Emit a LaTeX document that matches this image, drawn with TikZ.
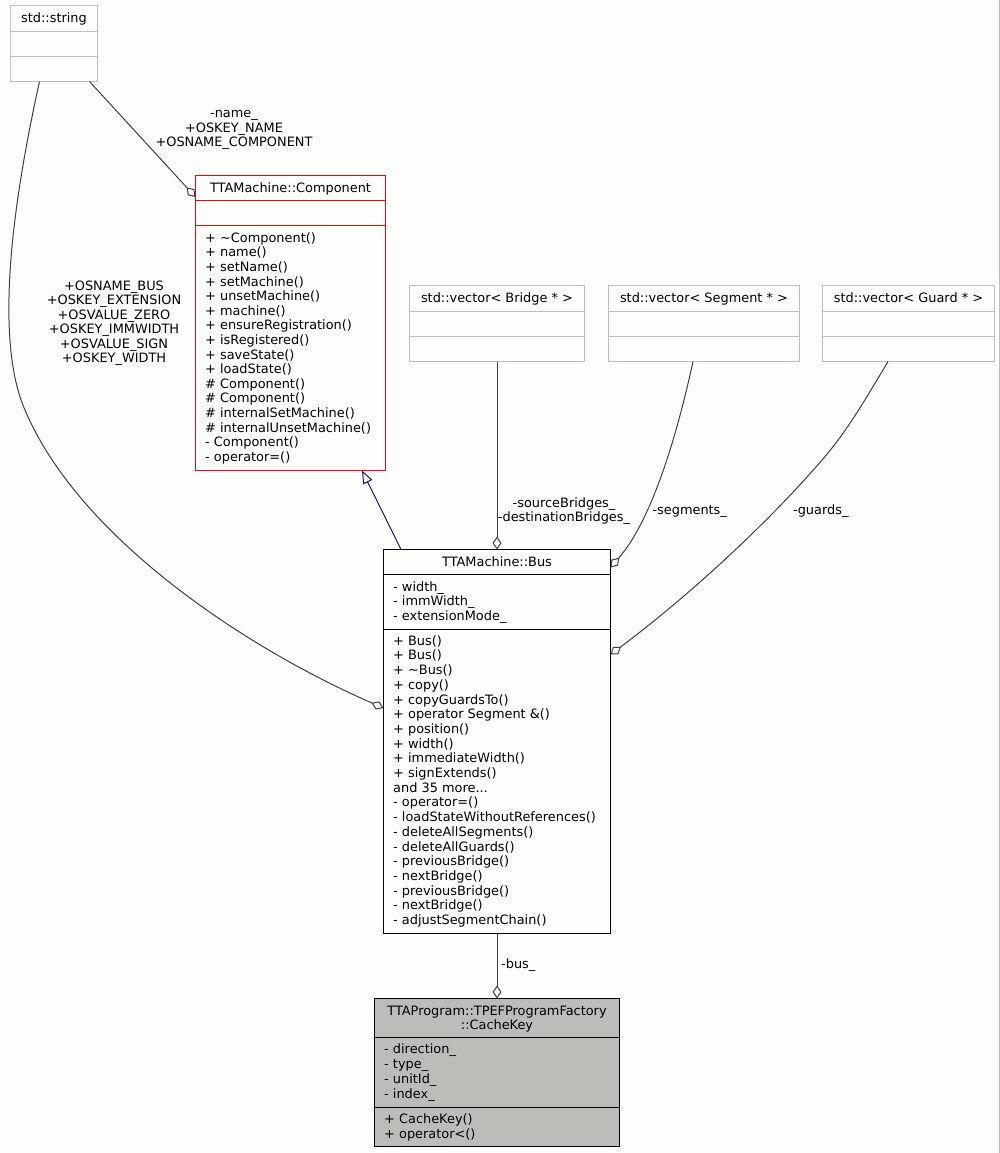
\documentclass[tikz,border=0pt]{standalone}
\usepackage{fontspec}
\setmainfont{DejaVu Sans}
\usetikzlibrary{arrows.meta}

\definecolor{edgegray}{RGB}{64,64,64}
\definecolor{boxgray}{RGB}{191,191,191}
\definecolor{compred}{RGB}{255,0,0}
\definecolor{keyfill}{RGB}{187,189,185}
\definecolor{inhblue}{RGB}{25,25,112}
\definecolor{pagebg}{RGB}{253,255,253}

\tikzset{
  cls/.style={draw, color=#1, rectangle, inner sep=0pt, outer sep=0pt, anchor=north west, line width=1pt},
  cls/.default=black,
  txt/.style={inner sep=0pt, color=black, font=\fontsize{12.9}{14.6}\selectfont},
  member/.style={txt, anchor=base west},
  title/.style={txt, anchor=base},
  sep/.style={draw, color=#1, line width=1pt},
  sep/.default=black,
  agg/.style={draw, color=edgegray, line width=1pt, -{Diamond[open, length=13pt, width=9pt]}},
  inh/.style={draw, color=inhblue, line width=1pt, -{Triangle[open, length=13pt, width=10pt]}},
}

\begin{document}
\begin{tikzpicture}[x=1pt, y=-1pt]
  \path[fill=pagebg] (0,0) rectangle (1000,1153);
  \useasboundingbox (0,0) rectangle (1000,1153);
  \path[sep=boxgray] (999.5,0) -- (999.5,1153);

  \node[cls=boxgray, minimum width=87pt, minimum height=76pt] (str) at (10.5,5.5) {};
  \node[cls=boxgray, minimum width=175pt, minimum height=76pt] (brg) at (409.5,285.5) {};
  \node[cls=boxgray, minimum width=191pt, minimum height=76pt] (seg) at (608.5,285.5) {};
  \node[cls=boxgray, minimum width=172pt, minimum height=76pt] (grd) at (822.5,285.5) {};
  \node[cls=compred, minimum width=190pt, minimum height=295pt] (comp) at (195.5,175.5) {};
  \node[cls, minimum width=227pt, minimum height=384pt] (bus) at (383.5,549.5) {};
  \node[cls, fill=keyfill, minimum width=245pt, minimum height=148pt] (key) at (374.5,998.5) {};

  \foreach \b in {str,brg,seg,grd}{
    \path[sep=boxgray] ([yshift=-26pt]\b.north west) -- ([yshift=-26pt]\b.north east);
    \path[sep=boxgray] ([yshift=-51pt]\b.north west) -- ([yshift=-51pt]\b.north east);
  }
  \path[sep=compred] ([yshift=-25pt]comp.north west) -- ([yshift=-25pt]comp.north east);
  \path[sep=compred] ([yshift=-50pt]comp.north west) -- ([yshift=-50pt]comp.north east);
  \path[sep] ([yshift=-25pt]bus.north west) -- ([yshift=-25pt]bus.north east);
  \path[sep] ([yshift=-80pt]bus.north west) -- ([yshift=-80pt]bus.north east);
  \path[sep] ([yshift=-39pt]key.north west) -- ([yshift=-39pt]key.north east);
  \path[sep] ([yshift=-109pt]key.north west) -- ([yshift=-109pt]key.north east);

  \node[title] (str-t) at ([yshift=-17pt]str.north) {std::string};
  \node[title] (brg-t) at ([yshift=-17pt]brg.north) {std::vector< Bridge * >};
  \node[title] (seg-t) at ([yshift=-17pt]seg.north) {std::vector< Segment * >};
  \node[title] (grd-t) at ([yshift=-17pt]grd.north) {std::vector< Guard * >};
  \node[title] (comp-t) at ([yshift=-17pt]comp.north) {TTAMachine::Component};
  \node[title] (bus-t) at ([yshift=-17pt]bus.north) {TTAMachine::Bus};
  \node[title] (key-t1) at ([yshift=-16.5pt]key.north) {TTAProgram::TPEFProgramFactory};
  \node[title] (key-t2) at ([yshift=-31pt]key.north) {::CacheKey};

  \foreach \m [count=\i] in {+ \textasciitilde Component(), + name(), + setName(),
      + setMachine(), + unsetMachine(), + machine(), + ensureRegistration(),
      + isRegistered(), + saveState(), + loadState(), \# Component(), \# Component(),
      \# internalSetMachine(), \# internalUnsetMachine(), - Component(), - operator=()}
    \node[member] (comp-m\i) at (205, 227.7+14.6*\i) {\m};

  \foreach \m [count=\i] in {- width\_, - immWidth\_, - extensionMode\_}
    \node[member] (bus-a\i) at (393, 576.5+14.7*\i) {\m};
  \foreach \m [count=\i] in {+ Bus(), + Bus(), + \textasciitilde Bus(), + copy(),
      + copyGuardsTo(), + operator Segment \&(), + position(), + width(),
      + immediateWidth(), + signExtends(), and 35 more.{}.{}., - operator=(),
      - loadStateWithoutReferences(), - deleteAllSegments(), - deleteAllGuards(),
      - previousBridge(), - nextBridge(), - previousBridge(), - nextBridge(),
      - adjustSegmentChain()}
    \node[member] (bus-m\i) at (393, 630.5+14.7*\i) {\m};

  \foreach \m [count=\i] in {- direction\_, - type\_, - unitId\_, - index\_}
    \node[member] (key-a\i) at (384, 1038.8+14.8*\i) {\m};
  \foreach \m [count=\i] in {+ CacheKey(), + operator<()}
    \node[member] (key-m\i) at (384, 1108.8+14.8*\i) {\m};

  \path[agg] ([xshift=79pt]str.south west) -- ([yshift=-21.5pt]comp.north west);
  \path[agg] ([xshift=29pt]str.south west) .. controls (20,170) and (-10,330) .. (25,410)
    .. controls (80,540) and (250,650) .. ([yshift=-158.5pt]bus.north west);
  \path[inh] ([xshift=17.5pt]bus.north west) -- ([xshift=166.5pt]comp.south west);
  \path[agg] (brg.south) -- (brg.south |- bus.north);
  \path[agg] ([xshift=84.5pt]seg.south west) .. controls (677,435) and (652,520)
    .. ([yshift=-18pt]bus.north east);
  \path[agg] ([xshift=65.5pt]grd.south west) .. controls (862,405) and (845,435) .. (815,468)
    .. controls (765,525) and (690,595) .. ([yshift=-105pt]bus.north east);
  \path[agg] (bus.south) -- (key.north);

  \foreach \s [count=\i] in {-name\_, +OSKEY\_NAME, +OSNAME\_COMPONENT}
    \node[title] (name-l\i) at (234, 102.9+14.6*\i) {\s};
  \foreach \s [count=\i] in {+OSNAME\_BUS, +OSKEY\_EXTENSION, +OSVALUE\_ZERO,
      +OSKEY\_IMMWIDTH, +OSVALUE\_SIGN, +OSKEY\_WIDTH}
    \node[title] (const-l\i) at (114, 275.8+14.5*\i) {\s};
  \foreach \s [count=\i] in {-sourceBridges\_, -destinationBridges\_}
    \node[title] (brg-l\i) at (564, 492.6+14.6*\i) {\s};
  \node[title] (seg-l) at (689.7, 514.5) {-segments\_};
  \node[title] (grd-l) at (820.8, 514.5) {-guards\_};
  \node[member] (bus-l) at (501, 968.5) {-bus\_};
\end{tikzpicture}
\end{document}
